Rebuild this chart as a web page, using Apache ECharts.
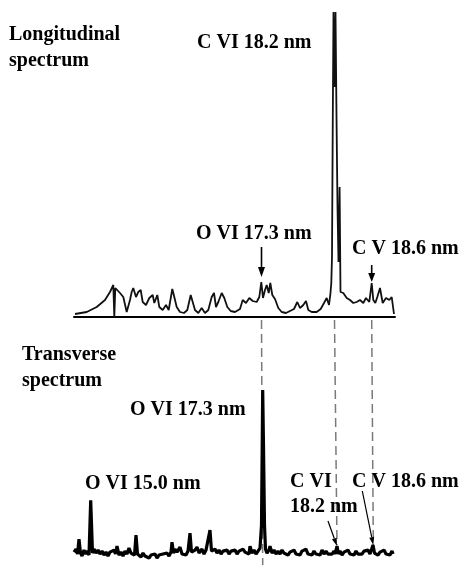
<!DOCTYPE html>
<html><head><meta charset="utf-8">
<script src="https://cdn.jsdelivr.net/npm/echarts@6/dist/echarts.min.js"></script>
<style>html,body{margin:0;padding:0;background:#fff}#c{width:465px;height:565px}</style>
</head><body><div id="c"></div>
<script>
// Detector channel (x) vs. relative intensity
const topSpectrum = [
[1,3],[12.7,5],[22.7,10],[31,17],[36,25],[39.3,32],[40.3,0],[41.3,29],[46,24],[49.3,20],[52.7,5],[56,17],[57.7,25],[59.3,29],[62,20],[64.3,25],[66.7,27],[68.7,15],[72,12],[75.3,19],[78.7,22],[80.3,14],[83.3,22],[85.3,10],[88.7,7],[92,12],[94.7,7],[96.7,5],[98.3,28],[100.3,20],[102.7,10],[106,5],[110,4],[113.3,7],[116.7,22],[118.7,20],[121,7],[124.3,4],[127.7,9],[131,4],[134.3,7],[137.7,20],[140,24],[142,10],[144.3,15],[147.7,24],[150.3,19],[153.3,10],[156.7,6],[161,5],[166,8],[168.7,17],[172,14],[175.3,19],[178.7,16],[182.7,15],[185.3,20],[187.3,35],[189,19],[191,27],[192.7,32],[194.7,24],[196.3,34],[198.3,22],[201,18],[204.3,9],[207.7,5],[212,4],[216,6],[220,8],[223.3,15],[226,9],[229.3,12],[232,16],[234.3,7],[237.7,5],[242.7,5],[246.7,8],[250,14],[252.7,19],[255,12],[256.5,24],[257.3,34],[258,60],[258.8,200],[259.5,305],[260.5,230],[261.5,305],[262.5,200],[263.5,110],[264.5,55],[265.6,130],[266.5,25],[269.3,24],[272.7,19],[276,17],[279.3,14],[282.7,15],[286,17],[289.3,14],[292,19],[295.3,15],[297.7,34],[299.3,17],[301.3,14],[303.3,20],[306,29],[308.7,14],[312,19],[315.3,17],[317.7,20],[320,3]
];
const bottomSpectrum = [
[0,3],[2,6],[3.5,1],[5,16],[6.5,2],[8,-1],[10,5],[11.5,1],[13,4],[15,0],[16.7,55],[18.5,2],[20,6],[22,2],[24,5],[26,1],[28,4],[30,0],[32,3],[34,-1],[36,3],[38,1],[40,5],[41.5,1],[43,9],[45,0],[47,3],[49,-1],[51,4],[53,1],[55,7],[57,2],[59,4],[60.5,0],[62,20],[63.5,1],[65,3],[67,-2],[69,2],[71,-1],[73,1],[75,-3],[77,0],[79,-2],[81,1],[83,-3],[85,0],[87,-2],[89,1],[91,-1],[93,2],[95,-1],[97,3],[98,13],[99.5,2],[101,6],[103,3],[106,8],[108,1],[110,3],[112,0],[114,4],[116,22],[117.5,3],[119,1],[121,5],[123,8],[125,2],[128,6],[130,1],[132,5],[134,3],[136,25],[137.5,4],[139,2],[141,6],[143,2],[145,5],[147,1],[149,4],[151,2],[153,5],[155,1],[157,4],[159,2],[161,5],[163,1],[165,4],[167,2],[169,6],[171,3],[173,5],[175,1],[176,9],[178,2],[180,5],[182,1],[184,3],[186,7],[187.5,30],[188.3,120],[188.7,166],[189.5,110],[190.5,30],[191.5,6],[193,2],[195,5],[196,9],[198,2],[200,5],[202,1],[204,4],[206,1],[208,5],[210,2],[212,4],[214,0],[216,3],[218,1],[220,5],[222,1],[224,3],[226,0],[228,4],[230,2],[232,6],[234,1],[236,3],[238,0],[240,4],[242,1],[244,3],[246,0],[248,5],[250,1],[252,4],[254,1],[256,3],[258,1],[260,4],[261,1],[263,9],[264.5,1],[266,4],[268,0],[270,3],[272,1],[274,5],[276,1],[278,3],[280,0],[282,4],[284,1],[286,3],[288,1],[290,4],[292,2],[294,5],[296,1],[297,3],[299,10],[300.5,2],[302,4],[304,0],[306,3],[308,1],[310,5],[312,1],[314,3],[316,0],[318,4],[319,1]
];
// channels of the identified lines: O VI 17.3, C VI 18.2, C V 18.6
const topLineChannels = [187.5, 260.5, 297.7];
const bottomLineChannels = [188.7, 263, 299.3];

const FONT = '"Liberation Serif","Times New Roman",serif';
const chart = echarts.init(document.getElementById('c'), null, {renderer:'canvas'});
chart.setOption({
  animation:false,
  backgroundColor:'#fff',
  grid:[
    {left:74, top:0, width:321, height:317},
    {left:74, top:376, width:321, height:190}
  ],
  xAxis:[
    {gridIndex:0, type:'value', min:0, max:321, axisLine:{show:true,onZero:false,lineStyle:{color:'#000',width:2}}, axisTick:{show:false}, axisLabel:{show:false}, splitLine:{show:false}},
    {gridIndex:1, type:'value', min:0, max:321, show:false}
  ],
  yAxis:[
    {gridIndex:0, type:'value', min:0, max:317, show:false},
    {gridIndex:1, type:'value', min:-10, max:180, show:false}
  ],
  series:[
    {type:'line', xAxisIndex:0, yAxisIndex:0, data:topSpectrum, symbol:'none', z:5, lineStyle:{color:'#111',width:1.8}},
    {type:'line', xAxisIndex:1, yAxisIndex:1, data:bottomSpectrum, symbol:'none', z:5, lineStyle:{color:'#000',width:3.2}}
  ]
});

function arrow(x1,y1,x2,y2,hl,hw,w){
  const dx=x2-x1, dy=y2-y1, L=Math.hypot(dx,dy), ux=dx/L, uy=dy/L;
  const bx=x2-ux*hl, by=y2-uy*hl, px=-uy*hw/2, py=ux*hw/2;
  return [
    {type:'line', z:20, shape:{x1:x1,y1:y1,x2:bx,y2:by}, style:{stroke:'#000',lineWidth:w}},
    {type:'polygon', z:20, shape:{points:[[x2,y2],[bx+px,by+py],[bx-px,by-py]]}, style:{fill:'#000'}}
  ];
}
function txt(s,x,y){
  return {type:'text', z:30, x:x, y:y, style:{text:s, fill:'#000', font:'bold 20px '+FONT, verticalAlign:'middle', align:'left'}};
}
const tx = c => chart.convertToPixel({xAxisIndex:0,yAxisIndex:0},[c,0])[0];
const bx = c => chart.convertToPixel({xAxisIndex:1,yAxisIndex:1},[c,0])[0];
const g = [];
const ends = [565, 545, 545];
for (let i=0;i<3;i++){
  g.push({type:'line', z:1, shape:{x1:tx(topLineChannels[i]), y1:320, x2:bx(bottomLineChannels[i]), y2:ends[i]}, style:{stroke:'#7a7a7a', lineWidth:1.5, lineDash:[9,5]}});
}
g.push(...arrow(tx(topLineChannels[0]),247,tx(topLineChannels[0]),277,10,7,1.6));
g.push(...arrow(tx(topLineChannels[2]),265,tx(topLineChannels[2]),282,9,7,1.6));
g.push(...arrow(bx(bottomLineChannels[1])-9,521,bx(bottomLineChannels[1]),546,8,5,1.2));
g.push(...arrow(bx(bottomLineChannels[2])-11,491,bx(bottomLineChannels[2]),545,8,5,1.2));
g.push(txt('Longitudinal',9,35), txt('spectrum',9,61));
g.push(txt('C VI 18.2 nm',197,43));
g.push(txt('O VI 17.3 nm',196,234));
g.push(txt('C V 18.6 nm',352,249));
g.push(txt('Transverse',22,355), txt('spectrum',22,381));
g.push(txt('O VI 17.3 nm',130,410));
g.push(txt('O VI 15.0 nm',85,484));
g.push(txt('C VI',290,482), txt('18.2 nm',290,507));
g.push(txt('C V 18.6 nm',352,482));
chart.setOption({graphic:g});
</script></body></html>
